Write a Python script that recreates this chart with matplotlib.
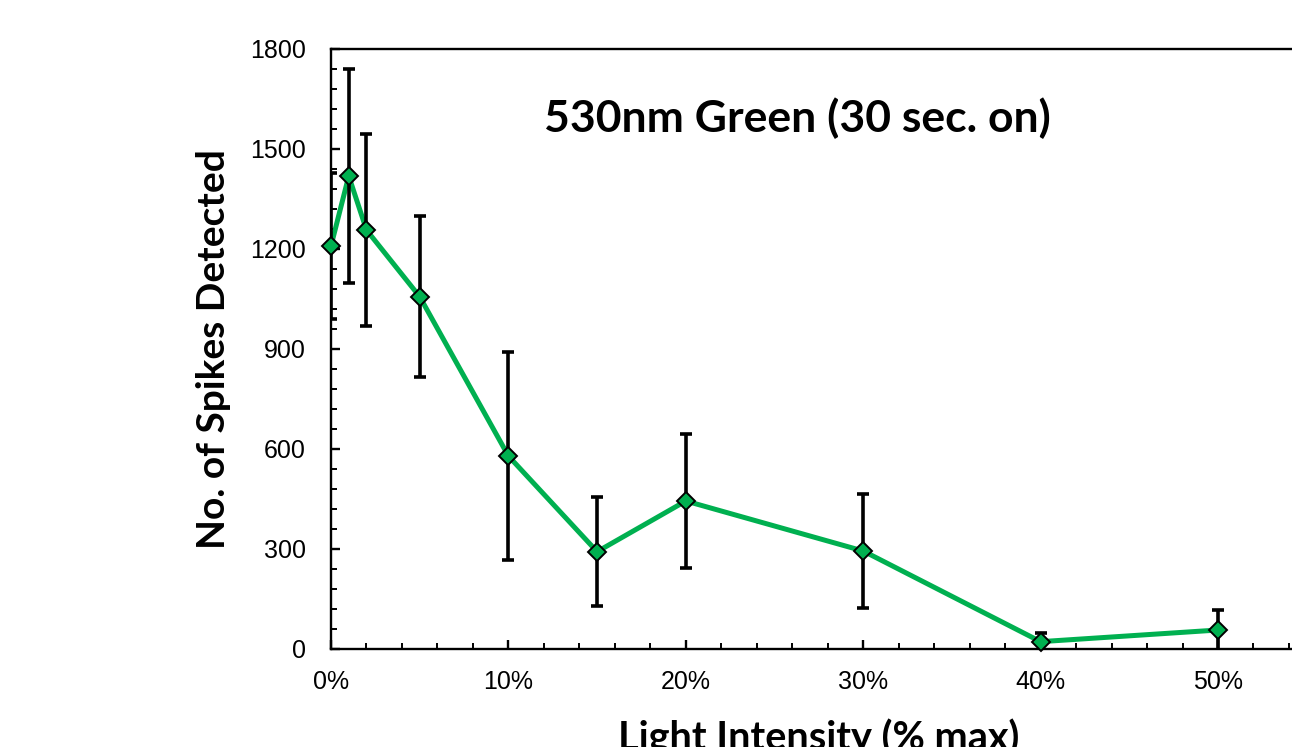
import numpy as np
import matplotlib
matplotlib.use('Agg')
import matplotlib.pyplot as plt
from matplotlib.ticker import MultipleLocator, PercentFormatter

# light intensity (fraction of max) vs spike count, with error bars
intensity = [0.0, 0.01, 0.02, 0.05, 0.10, 0.15, 0.20, 0.30, 0.40, 0.50]
spikes    = [1209, 1419, 1257, 1057, 579, 292, 444, 294, 22, 57]
spike_err = [220, 320, 288, 242, 313, 163, 201, 171, 27, 60]

GREEN = '#00B050'
BOLD_FONT = ['Lato', 'DejaVu Sans']

fig = plt.figure(figsize=(12.92, 7.47), dpi=100)
ax = fig.add_axes([331/1292, 98/747, 975.7/1292, 600/747])

ax.plot(intensity, spikes, color=GREEN, lw=3.6, zorder=2, solid_joinstyle='round')
ax.errorbar(intensity, spikes, yerr=spike_err, fmt='none', ecolor='black',
            elinewidth=2.6, capsize=4.6, capthick=2.6, zorder=3)
ax.plot(intensity, spikes, ls='none', marker='D', ms=9.6, mfc=GREEN,
        mec='black', mew=1.4, zorder=4, clip_on=False)

ax.set_xlim(0, 0.55)
ax.set_ylim(0, 1800)
ax.xaxis.set_major_locator(MultipleLocator(0.10))
ax.xaxis.set_minor_locator(MultipleLocator(0.02))
ax.xaxis.set_major_formatter(PercentFormatter(xmax=1, decimals=0))
ax.yaxis.set_major_locator(MultipleLocator(300))
ax.yaxis.set_minor_locator(MultipleLocator(60))

for side in ['top', 'right']:
    ax.spines[side].set_visible(side == 'top')
for s in ax.spines.values():
    s.set_linewidth(1.7)
ax.tick_params(which='major', direction='in', length=6.5, width=1.7,
               labelsize=18, pad=18)
ax.tick_params(which='minor', direction='in', length=4.2, width=1.4)
ax.tick_params(axis='x', which='major', pad=15)
ax.tick_params(axis='y', which='both', right=False)
ax.tick_params(axis='x', which='both', top=False)
for lbl in ax.get_xticklabels() + ax.get_yticklabels():
    lbl.set_fontfamily(['Liberation Sans', 'DejaVu Sans'])

ax.set_ylabel('No. of Spikes Detected', fontsize=28, fontweight='bold',
              family=BOLD_FONT, labelpad=14)
ax.set_xlabel('Light Intensity (% max)', fontsize=28.5, fontweight='bold',
              family=BOLD_FONT, labelpad=18)
ax.text(0.263, 1593, '530nm Green (30 sec. on)', ha='center', va='center',
        fontsize=32, fontweight='bold', family=BOLD_FONT)

fig.savefig('out.png', dpi=100)
